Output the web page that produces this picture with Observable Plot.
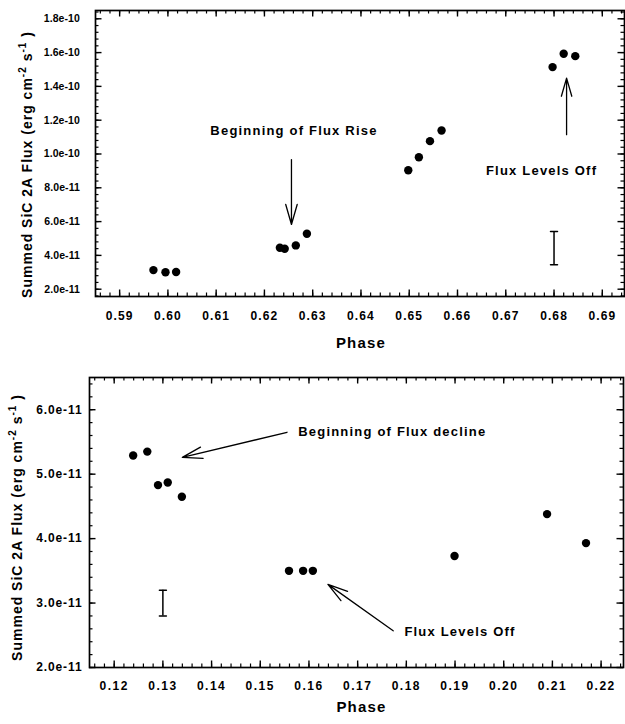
<!DOCTYPE html>
<html><head><meta charset="utf-8">
<script src="https://cdn.jsdelivr.net/npm/d3@7"></script>
<script src="https://cdn.jsdelivr.net/npm/@observablehq/plot@0.6"></script>
<style>
body{margin:0;background:#fff;}
#c{width:625px;}
#c svg{display:block;}
</style></head><body><div id="c"></div>
<script>
// ---------- Top panel data ----------
const phaseTop = [0.5970, 0.5995, 0.6017, 0.6232, 0.6242, 0.6265, 0.6288, 0.6498, 0.6520, 0.6543, 0.6567, 0.6797, 0.6820, 0.6844];
const fluxTop  = [3.13e-11, 3.00e-11, 3.02e-11, 4.45e-11, 4.39e-11, 4.59e-11, 5.28e-11, 9.04e-11, 9.81e-11, 1.076e-10, 1.139e-10, 1.514e-10, 1.593e-10, 1.579e-10];
const xTicksTop = [0.59, 0.60, 0.61, 0.62, 0.63, 0.64, 0.65, 0.66, 0.67, 0.68, 0.69];
const yTicksTop = [2e-11, 4e-11, 6e-11, 8e-11, 1.0e-10, 1.2e-10, 1.4e-10, 1.6e-10, 1.8e-10];
const errXTop = [0.68];
const errLoTop = [3.44e-11];
const errHiTop = [5.41e-11];
const arrowX1Top = [0.6256, 0.6826];
const arrowY1Top = [9.67e-11, 1.114e-10];
const arrowX2Top = [0.6256, 0.6826];
const arrowY2Top = [5.83e-11, 1.449e-10];
const labelTextTop = ["Beginning of Flux Rise", "Flux Levels Off"];
const labelXTop = [0.6088, 0.6659];
const labelYTop = [1.14e-10, 8.98e-11];

// ---------- Bottom panel data ----------
const phaseBot = [0.1239, 0.1268, 0.1290, 0.1310, 0.1339, 0.1559, 0.1588, 0.1608, 0.1899, 0.2089, 0.2169];
const fluxBot  = [5.29e-11, 5.35e-11, 4.83e-11, 4.87e-11, 4.65e-11, 3.50e-11, 3.50e-11, 3.50e-11, 3.73e-11, 4.38e-11, 3.93e-11];
const xTicksBot = [0.12, 0.13, 0.14, 0.15, 0.16, 0.17, 0.18, 0.19, 0.20, 0.21, 0.22];
const yTicksBot = [2e-11, 3e-11, 4e-11, 5e-11, 6e-11];
const errXBot = [0.13];
const errLoBot = [2.8e-11];
const errHiBot = [3.2e-11];
const arrowX1Bot = [0.1555, 0.1773];
const arrowY1Bot = [5.65e-11, 2.57e-11];
const arrowX2Bot = [0.1340, 0.1639];
const arrowY2Bot = [5.26e-11, 3.29e-11];
const labelTextBot = ["Beginning of Flux decline", "Flux Levels Off"];
const labelXBot = [0.1578, 0.1796];
const labelYBot = [5.65e-11, 2.55e-11];

const xTitle = "Phase";
const yTitle = "Summed SiC 2A Flux (erg cm-2 s-1 )";

const fmtX = d3.format(".2f");
const fmtY = d3.format(".1e");
const FONT = "'Liberation Sans', Arial, Helvetica, sans-serif";

function panel(p) {
  const W = 625;
  const fh = p.height - p.marginTop - p.marginBottom;
  const fw = W - p.marginLeft - p.marginRight;
  const [x0, x1] = p.xDomain, [y0, y1] = p.yDomain;
  const xMinor = d3.range(Math.ceil(x0 / p.xMinorStep - 1e-6), Math.floor(x1 / p.xMinorStep + 1e-6) + 1).map(i => i * p.xMinorStep);
  const yMinor = d3.range(Math.ceil(y0 / p.yMinorStep - 1e-6), Math.floor(y1 / p.yMinorStep + 1e-6) + 1).map(i => i * p.yMinorStep);
  const xMaj = p.xTicks.filter(d => d >= x0 && d <= x1);
  const yMaj = p.yTicks.filter(d => d >= y0 && d <= y1);
  const idx = d3.range(p.phase.length);
  const arr = d3.range(p.arrowX1.length);
  const lab = d3.range(p.labelText.length);
  const err = d3.range(p.errX.length);
  const seg = {draw(ctx, l) { ctx.moveTo(0, 0); ctx.lineTo(0, -l); }};
  const MAJ = 6.5, MIN = 3.5;
  const kx = (x1 - x0) / fw, ky = (y1 - y0) / fh;   // data units per pixel
  const ticksX = (vals, len, sw) => {
    const I = d3.range(vals.length);
    return [
      Plot.ruleX(I, {x: i => vals[i], y1: () => y0, y2: () => y0 + len * ky, strokeWidth: sw, stroke: "black"}),
      Plot.ruleX(I, {x: i => vals[i], y1: () => y1, y2: () => y1 - len * ky, strokeWidth: sw, stroke: "black"})
    ];
  };
  const ticksY = (vals, len, sw) => {
    const I = d3.range(vals.length);
    return [
      Plot.ruleY(I, {y: i => vals[i], x1: () => x0, x2: () => x0 + len * kx, strokeWidth: sw, stroke: "black"}),
      Plot.ruleY(I, {y: i => vals[i], x1: () => x1, x2: () => x1 - len * kx, strokeWidth: sw, stroke: "black"})
    ];
  };
  const svg = Plot.plot({
    width: W, height: p.height,
    marginLeft: p.marginLeft, marginRight: p.marginRight, marginTop: p.marginTop, marginBottom: p.marginBottom,
    x: {domain: p.xDomain},
    y: {domain: p.yDomain},
    style: {fontFamily: FONT, fontWeight: "bold", color: "black", background: "white", overflow: "visible"},
    marks: [
      Plot.frame({strokeWidth: 1.7, fill: "none"}),
      Plot.axisX({ticks: p.xTicks, tickSize: 0, tickPadding: p.xPad, tickFormat: fmtX, fontSize: p.xFont, fontWeight: "bold", label: null}),
      Plot.axisY({ticks: p.yTicks, tickSize: 0, tickPadding: p.yPad, tickFormat: fmtY, fontSize: p.yFont, fontWeight: "bold", label: null}),
      ...ticksX(xMinor, MIN, 1.2),
      ...ticksX(xMaj, MAJ, 1.4),
      ...ticksY(yMinor, MIN, 1.2),
      ...ticksY(yMaj, MAJ, 1.4),
      Plot.ruleX(err, {x: i => p.errX[i], y1: i => p.errLo[i], y2: i => p.errHi[i], strokeWidth: 1.5}),
      Plot.vector(err, {x: i => p.errX[i], y: i => p.errLo[i], length: 7, rotate: 90, anchor: "middle", shape: seg, strokeWidth: 1.5}),
      Plot.vector(err, {x: i => p.errX[i], y: i => p.errHi[i], length: 7, rotate: 90, anchor: "middle", shape: seg, strokeWidth: 1.5}),
      Plot.dot(idx, {x: i => p.phase[i], y: i => p.flux[i], r: 4.2, fill: "black"}),
      Plot.arrow(arr, {x1: i => p.arrowX1[i], y1: i => p.arrowY1[i], x2: i => p.arrowX2[i], y2: i => p.arrowY2[i],
        strokeWidth: 1.3, headLength: 24, headAngle: 32, stroke: "black"}),
      Plot.text(lab, {x: i => p.labelX[i], y: i => p.labelY[i], text: i => p.labelText[i], textAnchor: "start",
        lineAnchor: "middle", fontSize: 13, fontWeight: "bold", fill: "black"}),
      Plot.text([xTitle], {frameAnchor: "bottom", dx: p.xTitleDx, dy: p.xTitleDy, fontSize: 15, fontWeight: "bold", textAnchor: "middle", lineAnchor: "middle", fill: "black"}),
      Plot.text([yTitle], {frameAnchor: "left", dx: p.yTitleDx, dy: p.yTitleDy, rotate: -90, fontSize: 14, fontWeight: "bold", textAnchor: "middle", lineAnchor: "middle", fill: "black"})
    ]
  });
  const s = d3.select(svg);
  s.selectAll('g[aria-label="x-axis tick label"]').style("letter-spacing", p.xLs + "px");
  s.selectAll('g[aria-label="y-axis tick label"]').style("letter-spacing", p.yLs + "px");
  s.selectAll("text").each(function() {
    const t = this.textContent;
    if (p.labelText.includes(t)) d3.select(this).style("letter-spacing", "1.2px");
    if (t === xTitle) d3.select(this).style("letter-spacing", "1.2px");
    if (t === yTitle) {
      const el = d3.select(this).style("letter-spacing", "1px");
      el.text(null);
      el.append("tspan").text("Summed SiC 2A Flux (erg cm");
      el.append("tspan").attr("dy", -6).attr("font-size", 10).text("-2");
      el.append("tspan").attr("dy", 6).text(" s");
      el.append("tspan").attr("dy", -6).attr("font-size", 10).text("-1");
      el.append("tspan").attr("dy", 6).text(" )");
    }
  });
  return svg;
}

const topPanel = panel({
  height: 355, marginLeft: 95, marginRight: 1, marginTop: 10, marginBottom: 59,
  xDomain: [0.585, 0.6946], yDomain: [1.568e-11, 1.849e-10],
  xMinorStep: 0.002, yMinorStep: 4e-12,
  xTicks: xTicksTop, yTicks: yTicksTop,
  xPad: 15, yPad: 15.5, xFont: 12, yFont: 10.5, xLs: 1.1, yLs: 0.1,
  phase: phaseTop, flux: fluxTop,
  errX: errXTop, errLo: errLoTop, errHi: errHiTop,
  arrowX1: arrowX1Top, arrowY1: arrowY1Top, arrowX2: arrowX2Top, arrowY2: arrowY2Top,
  labelText: labelTextTop, labelX: labelXTop, labelY: labelYTop,
  xTitleDx: 1, xTitleDy: 47, yTitleDx: -68, yTitleDy: 11
});
const botPanel = panel({
  height: 369, marginLeft: 89, marginRight: 2, marginTop: 22, marginBottom: 57,
  xDomain: [0.11493, 0.2246], yDomain: [2e-11, 6.5e-11],
  xMinorStep: 0.002, yMinorStep: 2e-12,
  xTicks: xTicksBot, yTicks: yTicksBot,
  xPad: 14, yPad: 7, xFont: 12, yFont: 12, xLs: 1.5, yLs: 0.9,
  phase: phaseBot, flux: fluxBot,
  errX: errXBot, errLo: errLoBot, errHi: errHiBot,
  arrowX1: arrowX1Bot, arrowY1: arrowY1Bot, arrowX2: arrowX2Bot, arrowY2: arrowY2Bot,
  labelText: labelTextBot, labelX: labelXBot, labelY: labelYBot,
  xTitleDx: 5, xTitleDy: 40, yTitleDx: -72, yTitleDy: 5
});
document.getElementById("c").append(topPanel, botPanel);
</script>
</body></html>
